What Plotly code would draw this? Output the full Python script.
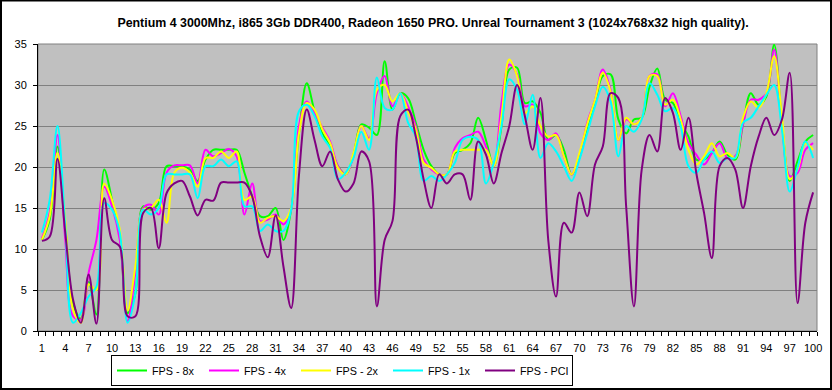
import plotly.graph_objects as go

frames = list(range(1, 101))

fps_8x = [11.1, 13.6, 22.5, 12.8, 3.4, 1.5, 6.0, 2.0, 19.7, 16.0,
          11.5, 2.2, 4.6, 15.2, 14.8, 15.6, 20.1, 20.1, 20.1, 19.7,
          18.3, 20.9, 22.1, 22.1, 22.1, 22.1, 19.3, 16.4, 14.0, 14.0,
          15.0, 11.1, 14.8, 24.1, 30.2, 26.8, 24.1, 22.5, 20.1, 19.1,
          21.5, 25.2, 24.8, 23.9, 32.9, 27.0, 29.0, 28.4, 25.4, 22.1,
          20.1, 19.1, 19.1, 21.7, 22.1, 22.9, 26.0, 23.3, 20.1, 25.0,
          31.9, 32.1, 27.8, 28.0, 26.6, 23.3, 23.9, 22.1, 19.1, 21.1,
          24.8, 27.8, 31.1, 31.3, 25.8, 24.1, 25.8, 26.0, 29.8, 32.0,
          28.2, 27.8, 25.4, 23.7, 20.9, 20.9, 21.7, 23.1, 21.5, 20.9,
          25.2, 29.0, 27.6, 28.6, 34.9, 25.4, 18.3, 20.7, 23.1, 23.9]

fps_4x = [11.3, 14.4, 23.9, 11.1, 1.8, 1.4, 7.1, 11.1, 17.6, 15.2,
          11.1, 1.2, 7.1, 15.0, 15.4, 14.2, 19.3, 20.2, 20.2, 20.2,
          18.0, 22.1, 21.3, 21.7, 22.2, 21.3, 14.2, 18.0, 13.4, 13.6,
          14.2, 13.0, 14.8, 25.0, 28.0, 26.6, 24.8, 23.1, 20.1, 19.1,
          21.3, 25.0, 23.5, 29.0, 31.1, 27.4, 29.0, 27.4, 25.0, 20.9,
          19.7, 19.1, 19.1, 22.3, 23.5, 23.9, 24.3, 22.5, 20.1, 27.8,
          32.5, 31.3, 27.4, 27.6, 24.1, 23.3, 24.1, 21.3, 19.1, 21.3,
          25.4, 28.2, 31.9, 29.4, 23.3, 25.8, 25.2, 26.0, 31.1, 31.3,
          27.4, 29.0, 26.2, 22.9, 21.5, 20.3, 21.7, 22.9, 21.1, 21.3,
          25.2, 28.2, 28.2, 29.0, 34.3, 25.4, 18.9, 19.3, 22.1, 22.9]

fps_2x = [11.1, 14.0, 21.7, 13.6, 2.6, 1.0, 5.7, 5.0, 18.0, 16.0,
          12.4, 2.5, 7.9, 14.8, 15.0, 16.0, 13.2, 19.3, 19.9, 19.3,
          17.6, 21.1, 21.1, 21.9, 21.1, 21.9, 16.0, 16.4, 13.2, 13.8,
          14.0, 13.4, 15.0, 24.1, 27.8, 27.0, 24.6, 22.9, 19.9, 19.1,
          21.7, 25.0, 23.3, 29.4, 30.0, 28.0, 29.0, 26.8, 24.6, 20.5,
          19.9, 19.1, 19.1, 21.9, 22.1, 22.1, 22.1, 22.1, 20.1, 26.2,
          33.1, 31.1, 26.6, 27.4, 25.0, 23.7, 23.9, 21.3, 19.1, 21.7,
          25.2, 28.2, 31.5, 29.2, 23.3, 26.0, 25.2, 26.0, 31.1, 31.1,
          27.6, 28.2, 25.8, 22.1, 20.3, 21.3, 22.9, 21.3, 21.7, 21.1,
          26.0, 28.0, 27.2, 29.0, 33.5, 26.2, 18.5, 19.7, 22.9, 22.1]

fps_1x = [12.0, 16.0, 25.0, 12.8, 1.0, 2.2, 4.2, 5.4, 15.6, 14.8,
          12.0, 1.0, 4.6, 14.8, 14.2, 15.0, 19.1, 19.1, 19.1, 19.1,
          16.2, 20.1, 20.1, 20.9, 20.1, 20.7, 15.2, 15.2, 12.2, 13.0,
          12.2, 12.2, 14.8, 26.8, 27.6, 26.2, 23.7, 22.3, 18.5, 19.3,
          21.1, 24.3, 22.1, 30.9, 27.2, 27.0, 29.0, 25.4, 23.7, 18.3,
          18.9, 18.3, 19.1, 20.5, 23.3, 23.7, 23.3, 18.0, 20.5, 25.0,
          30.7, 29.4, 25.2, 28.8, 21.1, 22.9, 21.9, 20.1, 18.3, 20.9,
          24.1, 27.4, 29.8, 28.0, 21.3, 25.0, 24.3, 25.8, 30.2, 28.8,
          26.8, 27.2, 25.0, 20.1, 19.3, 20.9, 21.9, 20.5, 21.1, 21.1,
          25.4, 26.0, 27.4, 28.8, 30.0, 24.6, 17.0, 19.9, 23.1, 21.1]

fps_pci = [11.0, 11.5, 21.0, 12.0, 3.8, 1.0, 6.9, 0.9, 16.2, 11.1,
           10.3, 1.8, 1.8, 14.4, 15.0, 10.1, 16.8, 18.0, 18.3, 16.4,
           14.1, 16.0, 15.9, 18.1, 18.1, 18.1, 18.1, 16.4, 11.5, 9.0,
           14.1, 7.9, 2.8, 19.0, 27.0, 23.3, 20.1, 21.9, 18.5, 17.0,
           18.0, 21.9, 20.7, 3.0, 11.1, 13.4, 26.2, 27.0, 23.7, 18.5,
           15.0, 19.1, 18.0, 19.1, 19.1, 16.0, 23.1, 21.5, 18.0, 21.7,
           25.0, 30.0, 26.2, 22.1, 28.4, 11.1, 4.2, 13.2, 12.0, 16.9,
           14.0, 20.3, 22.5, 29.0, 28.4, 15.2, 3.0, 19.7, 23.9, 21.9,
           28.4, 26.6, 22.1, 26.0, 19.3, 14.4, 8.9, 20.1, 21.1, 19.7,
           15.0, 20.1, 23.7, 26.0, 23.9, 25.8, 31.5, 3.4, 13.2, 16.9]

series_names = ["FPS - 8x", "FPS - 4x", "FPS - 2x", "FPS - 1x", "FPS - PCI"]
series_values = [fps_8x, fps_4x, fps_2x, fps_1x, fps_pci]
series_colors = ["#00FF00", "#FF00FF", "#FFFF00", "#00FFFF", "#800080"]

x_tick_values = list(range(1, 101, 3))
y_tick_values = [0, 5, 10, 15, 20, 25, 30, 35]

title_text = ("Pentium 4 3000Mhz, i865 3Gb DDR400, Radeon 1650 PRO. "
              "Unreal Tournament 3 (1024x768x32 high quality).")

FONT = "Arial, 'Liberation Sans', sans-serif"

fig = go.Figure()
for name, vals, col in zip(series_names, series_values, series_colors):
    fig.add_trace(go.Scatter(
        x=frames, y=vals, name=name, mode="lines",
        line=dict(color=col, width=2, shape="spline", smoothing=1.0),
        hoverinfo="skip",
    ))

W, H = 832, 390
ML, MR, MT, MB = 38, 15, 44, 59
PW, PH = W - ML - MR, H - MT - MB


def px_to_paper_x(px):
    return (px - ML) / PW


def px_to_paper_y(py):
    return (H - MB - py) / PH


fig.update_layout(
    width=W, height=H,
    margin=dict(l=ML, r=MR, t=MT, b=MB, pad=0, autoexpand=False),
    paper_bgcolor="white",
    plot_bgcolor="#C0C0C0",
    font=dict(family=FONT, size=11, color="black"),
    title=dict(text="<b>" + title_text + "</b>", x=433 / W, xref="container",
               xanchor="center", y=1 - 23 / H, yref="container", yanchor="middle",
               font=dict(family=FONT, size=12.4, color="black")),
    showlegend=True,
    legend=dict(orientation="h", x=111 / W, xref="container", xanchor="left",
                y=1 - 355 / H, yref="container", yanchor="top",
                bordercolor="black", borderwidth=1, bgcolor="white",
                font=dict(family=FONT, size=10.8),
                entrywidth=47, entrywidthmode="pixels",
                tracegroupgap=0, itemwidth=30),
    xaxis=dict(range=[0.5, 100.5], tickmode="array", tickvals=x_tick_values,
               ticktext=[str(v) for v in x_tick_values],
               ticks="", showgrid=False, zeroline=False,
               showline=True, linecolor="black", linewidth=1,
               tickfont=dict(family=FONT, size=11),
               ticklabelstandoff=7, automargin=False,
               minor=dict(tickmode="linear", tick0=0.5, dtick=1, ticks="outside",
                          ticklen=4, tickcolor="black", tickwidth=1, showgrid=False),
               fixedrange=True),
    yaxis=dict(range=[0, 35], tickmode="array", tickvals=y_tick_values,
               ticks="outside", ticklen=4, tickcolor="black", tickwidth=1,
               showgrid=True, gridcolor="#808080", gridwidth=1,
               zeroline=False, showline=True, linecolor="black", linewidth=1,
               tickfont=dict(family=FONT, size=11),
               ticklabelstandoff=4, automargin=False,
               fixedrange=True),
)

# plot area border (grey, top & right)
fig.add_shape(type="rect", xref="paper", yref="paper", x0=0, x1=1, y0=0, y1=1,
              line=dict(color="#808080", width=1), layer="below")
# outer chart border
fig.add_shape(type="rect", xref="paper", yref="paper",
              x0=px_to_paper_x(1), x1=px_to_paper_x(831),
              y0=px_to_paper_y(389), y1=px_to_paper_y(0.5),
              line=dict(color="black", width=2), layer="above")

fig.write_html("out.html", include_plotlyjs=True,
               config={"displayModeBar": False},
               post_script="document.body.style.margin='0px';")
